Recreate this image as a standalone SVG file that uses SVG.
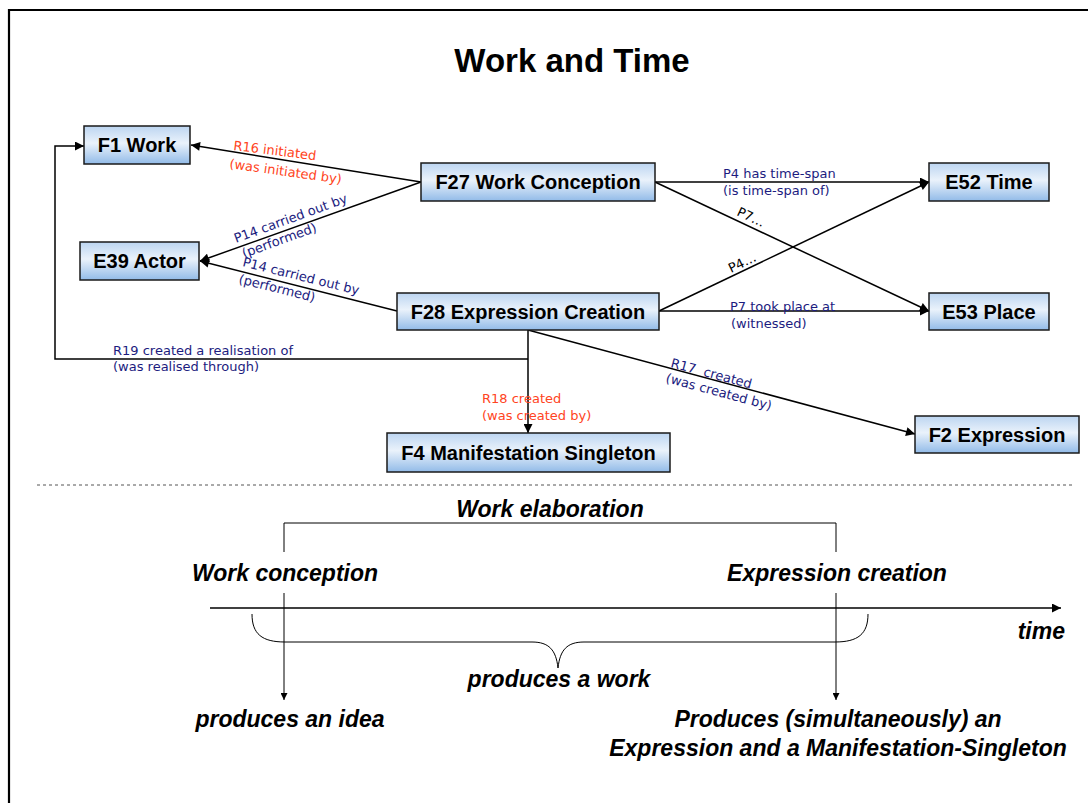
<svg xmlns="http://www.w3.org/2000/svg" width="1088" height="803" viewBox="0 0 1088 803">
<style>
.box{stroke:#1a1a1a;stroke-width:1.5;fill:url(#g)}
.nt{font-family:"Liberation Sans",Arial,sans-serif;font-weight:bold;font-size:20px;text-anchor:middle;fill:#000}
.ln{stroke:#000;stroke-width:1.5;fill:none}
.thin{stroke:#000;stroke-width:1;fill:none}
.lb{font-family:Verdana,"DejaVu Sans",sans-serif;font-size:13px}
.red{fill:#ff4422}
.blue{fill:#1c1c80}
.bt{font-family:"Liberation Sans",Arial,sans-serif;font-weight:bold;font-style:italic;font-size:23px;fill:#000}
</style>
<defs>
<linearGradient id="g" x1="0" y1="0" x2="0" y2="1">
<stop offset="0" stop-color="#bcd5f1"/>
<stop offset="0.45" stop-color="#eaf2fb"/>
<stop offset="1" stop-color="#92bbe8"/>
</linearGradient>
<marker id="ah" viewBox="0 0 10 10" refX="10" refY="5" markerWidth="10" markerHeight="9" markerUnits="userSpaceOnUse" orient="auto">
<path d="M0,0 L10,5 L0,10 Z" fill="#000"/>
</marker>
<marker id="as" viewBox="0 0 10 10" refX="10" refY="5" markerWidth="8" markerHeight="7" markerUnits="userSpaceOnUse" orient="auto">
<path d="M0,0 L10,5 L0,10 Z" fill="#000"/>
</marker>
</defs>
<rect width="1088" height="803" fill="#fff"/>
<path d="M9,803 V10 H1088" stroke="#000" stroke-width="2.2" fill="none"/>
<text x="572" y="72" font-family="Liberation Sans,Arial,sans-serif" font-weight="bold" font-size="33" text-anchor="middle">Work and Time</text>

<g id="connectors">
<line class="ln" x1="421" y1="182" x2="191" y2="145" marker-end="url(#ah)"/>
<line class="ln" x1="421" y1="182" x2="200" y2="261" marker-end="url(#ah)"/>
<line class="ln" x1="397" y1="311" x2="200" y2="261" marker-end="url(#ah)"/>
<line class="ln" x1="655" y1="182" x2="929" y2="182" marker-end="url(#ah)"/>
<line class="ln" x1="655" y1="182" x2="929" y2="311" marker-end="url(#ah)"/>
<line class="ln" x1="659" y1="311" x2="929" y2="182" marker-end="url(#ah)"/>
<line class="ln" x1="659" y1="311" x2="929" y2="311" marker-end="url(#ah)"/>
<path class="ln" d="M528,359 H55 V146 H84" marker-end="url(#ah)"/>
<line class="ln" x1="528" y1="330" x2="528" y2="433" marker-end="url(#ah)"/>
<line class="ln" x1="528" y1="330" x2="915" y2="434" marker-end="url(#ah)"/>

<text class="lb red" transform="translate(233,150) rotate(7)">R16 initiated</text>
<text class="lb red" transform="translate(229,168) rotate(8)">(was initiated by)</text>
<text class="lb blue" transform="translate(236,243) rotate(-20)">P14 carried out by</text>
<text class="lb blue" transform="translate(244,258) rotate(-20)">(performed)</text>
<text class="lb blue" transform="translate(242,266) rotate(14)">P14 carried out by</text>
<text class="lb blue" transform="translate(238,283) rotate(14)">(performed)</text>
<text class="lb blue" x="723" y="178">P4 has time-span</text>
<text class="lb blue" x="723" y="195">(is time-span of)</text>
<text class="lb" fill="#000" transform="translate(736,215) rotate(25)">P7…</text>
<text class="lb" fill="#000" transform="translate(731,273) rotate(-25.5)">P4…</text>
<text class="lb blue" x="730" y="311">P7 took place at</text>
<text class="lb blue" x="731" y="328">(witnessed)</text>
<text class="lb blue" x="113" y="355">R19 created a realisation of</text>
<text class="lb blue" x="113" y="371">(was realised through)</text>
<text class="lb red" x="482" y="403">R18 created</text>
<text class="lb red" x="482" y="420">(was created by)</text>
<text class="lb blue" transform="translate(670,367) rotate(15)">R17&#160; created</text>
<text class="lb blue" transform="translate(665,382) rotate(15)">(was created by)</text>
</g>

<g id="F1"><rect class="box" x="84" y="126" width="106" height="38"/><text class="nt" x="137" y="152">F1 Work</text></g>
<g id="F27"><rect class="box" x="421" y="163" width="234" height="38"/><text class="nt" x="538" y="189">F27 Work Conception</text></g>
<g id="E39"><rect class="box" x="80" y="242" width="119" height="38"/><text class="nt" x="139.5" y="268">E39 Actor</text></g>
<g id="F28"><rect class="box" x="397" y="293" width="262" height="37"/><text class="nt" x="528" y="318.5">F28 Expression Creation</text></g>
<g id="E52"><rect class="box" x="929" y="163" width="120" height="38"/><text class="nt" x="989" y="189">E52 Time</text></g>
<g id="E53"><rect class="box" x="929" y="293" width="120" height="37"/><text class="nt" x="989" y="318.5">E53 Place</text></g>
<g id="F2"><rect class="box" x="915" y="416" width="164" height="37"/><text class="nt" x="997" y="441.5">F2 Expression</text></g>
<g id="F4"><rect class="box" x="387" y="433" width="283" height="39"/><text class="nt" x="528.5" y="459.5">F4 Manifestation Singleton</text></g>

<line x1="37" y1="485" x2="1072" y2="485" stroke="#555" stroke-width="1" stroke-dasharray="3,3"/>

<g id="timeline">
<text class="bt" x="550" y="517" text-anchor="middle">Work elaboration</text>
<path class="thin" d="M284,552 V523 H836 V552"/>
<text class="bt" x="285" y="581" text-anchor="middle">Work conception</text>
<text class="bt" x="837" y="581" text-anchor="middle">Expression creation</text>
<line class="ln" x1="210" y1="608" x2="1061" y2="608" marker-end="url(#ah)"/>
<text class="bt" x="1065" y="639" text-anchor="end">time</text>
<path class="thin" d="M252,614 C252,634 262,642 285,642 H532 C549,642 556,650 558,668 C560,650 567,642 584,642 H835 C858,642 868,634 868,614"/>
<line class="thin" x1="284" y1="593" x2="284" y2="700" marker-end="url(#as)"/>
<line class="thin" x1="836" y1="593" x2="836" y2="700" marker-end="url(#as)"/>
<text class="bt" x="559" y="687" text-anchor="middle">produces a work</text>
<text class="bt" x="290" y="727" text-anchor="middle">produces an idea</text>
<text class="bt" x="838" y="727" text-anchor="middle">Produces (simultaneously) an</text>
<text class="bt" x="838" y="756" text-anchor="middle">Expression and a Manifestation-Singleton</text>
</g>
</svg>
